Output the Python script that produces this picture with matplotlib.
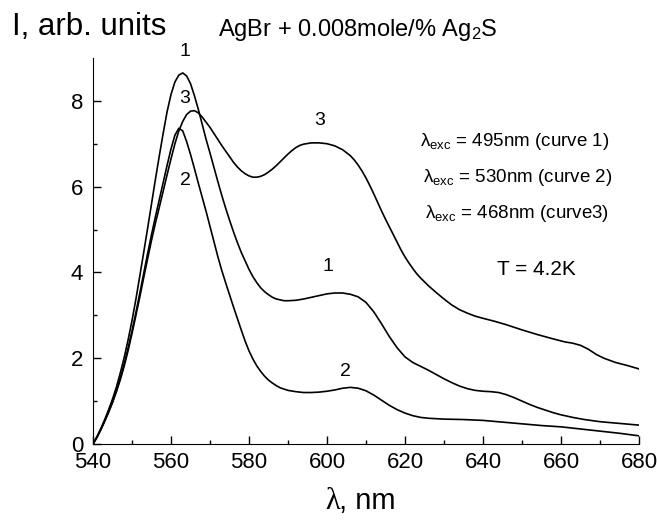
import matplotlib
matplotlib.use('Agg')
from matplotlib import pyplot as plt

plt.rcParams['font.family'] = ['Liberation Sans', 'DejaVu Sans']
plt.rcParams['mathtext.fontset'] = 'custom'
plt.rcParams['mathtext.rm'] = 'Liberation Sans'
plt.rcParams['mathtext.it'] = 'Liberation Sans'

# curve 1: excitation 495 nm
wl_1 = [540, 541, 542, 543, 544, 545, 546, 547, 548, 549, 550, 551, 552, 553, 554, 555, 556,
        557, 558, 559, 560, 561, 562, 563, 564, 565, 566, 567, 568, 569, 570, 571, 572, 573,
        574, 575, 576, 577, 578, 579, 580, 581, 582, 583, 584, 585, 586, 587, 588, 589, 590,
        592, 594, 596, 598, 600, 602, 604, 606, 608, 610, 612, 614, 616, 618, 620, 622, 624,
        626, 628, 630, 632, 634, 636, 638, 640, 642, 644, 646, 648, 650, 652, 654, 656, 658,
        660, 663, 666, 670, 675, 680]
i_1 = [0, 0.17, 0.36, 0.57, 0.8, 1.05, 1.33, 1.66, 2.02, 2.43, 2.88, 3.38, 3.92, 4.47, 5.03,
       5.6, 6.17, 6.72, 7.25, 7.75, 8.15, 8.44, 8.6, 8.65, 8.58, 8.4, 8.12, 7.8, 7.45, 7.1,
       6.78, 6.45, 6.12, 5.8, 5.5, 5.22, 4.95, 4.7, 4.47, 4.27, 4.07, 3.9, 3.76, 3.64, 3.55,
       3.48, 3.42, 3.38, 3.36, 3.34, 3.34, 3.35, 3.38, 3.42, 3.46, 3.5, 3.52, 3.52, 3.49,
       3.43, 3.3, 3.08, 2.8, 2.5, 2.24, 2.03, 1.9, 1.81, 1.72, 1.62, 1.52, 1.43, 1.35, 1.29,
       1.25, 1.23, 1.22, 1.2, 1.15, 1.08, 1.0, 0.92, 0.85, 0.79, 0.73, 0.68, 0.62, 0.57,
       0.52, 0.48, 0.44]

# curve 2: excitation 530 nm
wl_2 = [540, 541, 542, 543, 544, 545, 546, 547, 548, 549, 550, 551, 552, 553, 554, 555, 556,
        557, 558, 559, 560, 561, 562, 563, 564, 565, 566, 567, 568, 569, 570, 571, 572, 573,
        574, 575, 576, 577, 578, 579, 580, 581, 582, 583, 584, 585, 586, 587, 588, 590, 592,
        594, 596, 598, 600, 602, 604, 606, 608, 610, 612, 614, 616, 618, 620, 622, 624, 626,
        630, 635, 640, 645, 650, 655, 660, 665, 670, 675, 680]
i_2 = [0, 0.16, 0.34, 0.54, 0.75, 0.98, 1.24, 1.54, 1.87, 2.24, 2.64, 3.07, 3.52, 3.98, 4.44,
       4.88, 5.3, 5.7, 6.1, 6.5, 6.88, 7.2, 7.36, 7.3, 7.05, 6.75, 6.42, 6.08, 5.75, 5.42,
       5.07, 4.72, 4.37, 4.05, 3.76, 3.48, 3.2, 2.93, 2.66, 2.4, 2.17, 1.98, 1.82, 1.69,
       1.58, 1.49, 1.42, 1.36, 1.31, 1.25, 1.22, 1.2, 1.2, 1.21, 1.23, 1.26, 1.3, 1.32, 1.3,
       1.24, 1.14, 1.02, 0.9, 0.8, 0.72, 0.66, 0.62, 0.6, 0.58, 0.57, 0.55, 0.51, 0.47,
       0.43, 0.4, 0.35, 0.3, 0.25, 0.19]

# curve 3: excitation 468 nm
wl_3 = [540, 541, 542, 543, 544, 545, 546, 547, 548, 549, 550, 551, 552, 553, 554, 555, 556,
        557, 558, 559, 560, 561, 562, 563, 564, 565, 566, 567, 568, 569, 570, 571, 572, 573,
        574, 575, 576, 577, 578, 579, 580, 581, 582, 583, 584, 585, 586, 587, 588, 589, 590,
        591, 592, 593, 594, 596, 598, 600, 602, 604, 606, 607, 608, 609, 610, 611, 612, 613,
        614, 615, 616, 617, 618, 619, 620, 621, 622, 623, 624, 626, 628, 630, 632, 634, 636,
        638, 640, 643, 646, 650, 654, 658, 661, 663, 665, 667, 669, 671, 674, 677, 680]
i_3 = [0, 0.15, 0.33, 0.53, 0.74, 0.97, 1.22, 1.5, 1.82, 2.18, 2.58, 3.0, 3.43, 3.88, 4.32,
       4.75, 5.15, 5.52, 5.9, 6.28, 6.65, 7.0, 7.3, 7.52, 7.68, 7.76, 7.77, 7.72, 7.62, 7.5,
       7.38, 7.24, 7.1, 6.96, 6.83, 6.7, 6.57, 6.46, 6.37, 6.3, 6.25, 6.22, 6.22, 6.24, 6.28,
       6.34, 6.41, 6.49, 6.58, 6.67, 6.76, 6.84, 6.91, 6.96, 6.99, 7.02, 7.02, 7.0, 6.95,
       6.86, 6.72, 6.62, 6.5, 6.36, 6.2, 6.02, 5.83, 5.63, 5.43, 5.24, 5.06, 4.88, 4.7, 4.52,
       4.36, 4.22, 4.09, 3.97, 3.87, 3.69, 3.53, 3.38, 3.24, 3.13, 3.05, 2.98, 2.93, 2.86,
       2.78, 2.66, 2.55, 2.45, 2.38, 2.35, 2.3, 2.21, 2.09, 2.0, 1.9, 1.83, 1.75]

# curve number labels
lab_text = ['1', '3', '2', '3', '1', '2']
lab_x = [563.6, 563.6, 563.6, 598.2, 600.3, 604.6]
lab_y = [9.14, 8.06, 6.15, 7.55, 4.13, 1.69]

# excitation notes
notes = ['λ$_{\\rm exc}$ = 495nm (curve 1)',
         'λ$_{\\rm exc}$ = 530nm (curve 2)',
         'λ$_{\\rm exc}$ = 468nm (curve3)']

fig = plt.figure(figsize=(6.57, 5.21), dpi=100)
ax = fig.add_axes([0.1416, 0.1478, 0.831, 0.741])

for wl, inten in [(wl_1, i_1), (wl_2, i_2), (wl_3, i_3)]:
    ax.plot(wl, inten, color='black', lw=1.2)

for t, x, y in zip(lab_text, lab_x, lab_y):
    ax.text(x, y, t, fontsize=14, ha='center', va='center', clip_on=False)

ax.set_xlim(540, 680)
ax.set_ylim(0, 9)
ax.set_xticks(range(540, 681, 20))
ax.set_xticks(range(550, 680, 20), minor=True)
ax.set_yticks([0, 2, 4, 6, 8])
ax.set_yticks([1, 3, 5, 7], minor=True)
ax.spines['top'].set_visible(False)
ax.spines['right'].set_visible(False)
ax.tick_params(which='both', direction='in', labelsize=16, width=1)
ax.tick_params(which='major', length=6)
ax.tick_params(which='minor', length=3)
ax.tick_params(axis='x', pad=6)
ax.tick_params(axis='y', pad=7)

# axis titles, placed by hand like the original
fig.text(325 / 657, 1 - 509 / 521, 'λ', fontsize=22, family='Liberation Serif', va='baseline')
fig.text(339 / 657, 1 - 509 / 521, ', nm', fontsize=21, va='baseline')
fig.text(12 / 657, 1 - 35 / 521, 'I, arb. units', fontsize=22.5, va='baseline')
fig.text(218 / 657, 1 - 36 / 521, 'AgBr + 0.008mole/% Ag$_2$S', fontsize=17, va='baseline')

note_x = [420, 423, 425]
note_y = [146, 182, 218]
for t, x, y in zip(notes, note_x, note_y):
    fig.text(x / 657, 1 - y / 521, t, fontsize=13.5, va='baseline')
fig.text(497 / 657, 1 - 275 / 521, 'T = 4.2K', fontsize=15, va='baseline')

fig.savefig('out.png', dpi=100)
